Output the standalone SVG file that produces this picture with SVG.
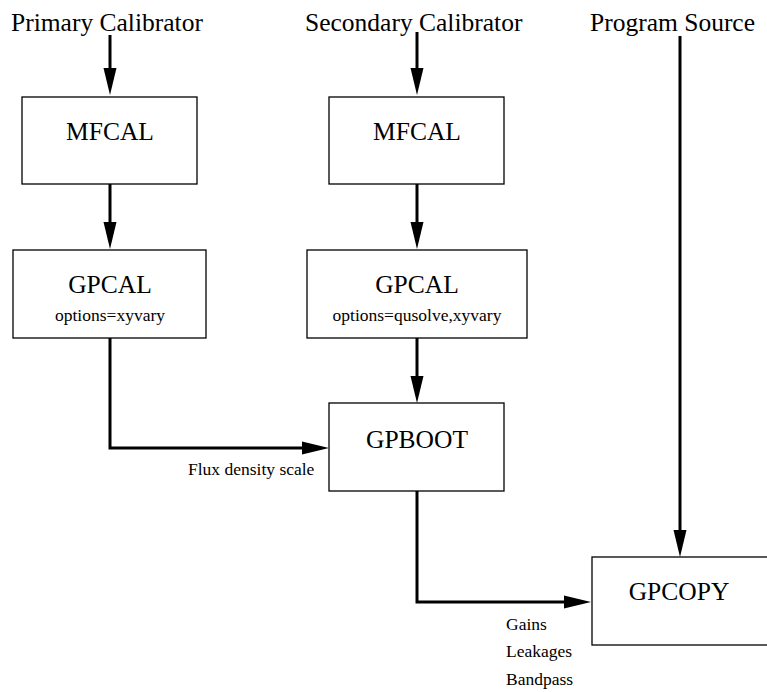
<svg xmlns="http://www.w3.org/2000/svg" width="767" height="692" viewBox="0 0 767 692">
<style>
.box{fill:#fff;stroke:#000;stroke-width:1.3}
.big{font-family:"Liberation Serif","Times New Roman",serif;font-size:25.5px;fill:#000}
.small{font-family:"Liberation Serif","Times New Roman",serif;font-size:17.5px;fill:#000}
.mid{text-anchor:middle}
.conn{fill:none;stroke:#000;stroke-width:3}
</style>
<defs>
<marker id="arr" markerUnits="userSpaceOnUse" markerWidth="28" markerHeight="14" refX="0" refY="6.5" orient="auto" overflow="visible">
<path d="M0,0 L27,6.5 L0,13 Z" fill="#000"/>
</marker>
</defs>
<rect width="767" height="692" fill="#fff"/>
<g id="labels">
<text class="big" x="11" y="31">Primary Calibrator</text>
<text class="big" x="305" y="31">Secondary Calibrator</text>
<text class="big" x="590" y="31">Program Source</text>
</g>
<g id="connectors">
<path class="conn" d="M110,35 V68" marker-end="url(#arr)"/>
<path class="conn" d="M417,32 V68" marker-end="url(#arr)"/>
<path class="conn" d="M110,184 V222" marker-end="url(#arr)"/>
<path class="conn" d="M417,184 V222" marker-end="url(#arr)"/>
<path class="conn" d="M110,338 V448 H302" marker-end="url(#arr)"/>
<path class="conn" d="M417,338 V376" marker-end="url(#arr)"/>
<path class="conn" d="M417,491 V602 H564" marker-end="url(#arr)"/>
<path class="conn" d="M680,36 V530" marker-end="url(#arr)"/>
<text class="small" x="188" y="475">Flux density scale</text>
<text class="small" x="506" y="630">Gains</text>
<text class="small" x="506" y="657">Leakages</text>
<text class="small" x="506" y="685">Bandpass</text>
</g>
<g id="mfcal1">
<rect class="box" x="22" y="97" width="175" height="87"/>
<text class="big mid" x="110" y="140">MFCAL</text>
</g>
<g id="mfcal2">
<rect class="box" x="329" y="97" width="175" height="87"/>
<text class="big mid" x="417" y="140">MFCAL</text>
</g>
<g id="gpcal1">
<rect class="box" x="13" y="250" width="193" height="88"/>
<text class="big mid" x="110" y="293">GPCAL</text>
<text class="small mid" x="110" y="321">options=xyvary</text>
</g>
<g id="gpcal2">
<rect class="box" x="307" y="250" width="220" height="88"/>
<text class="big mid" x="417" y="293">GPCAL</text>
<text class="small mid" x="417" y="321">options=qusolve,xyvary</text>
</g>
<g id="gpboot">
<rect class="box" x="329" y="403" width="175" height="88"/>
<text class="big mid" x="417" y="448">GPBOOT</text>
</g>
<g id="gpcopy">
<rect class="box" x="592" y="557" width="185" height="88"/>
<text class="big mid" x="679" y="600">GPCOPY</text>
</g>
</svg>
